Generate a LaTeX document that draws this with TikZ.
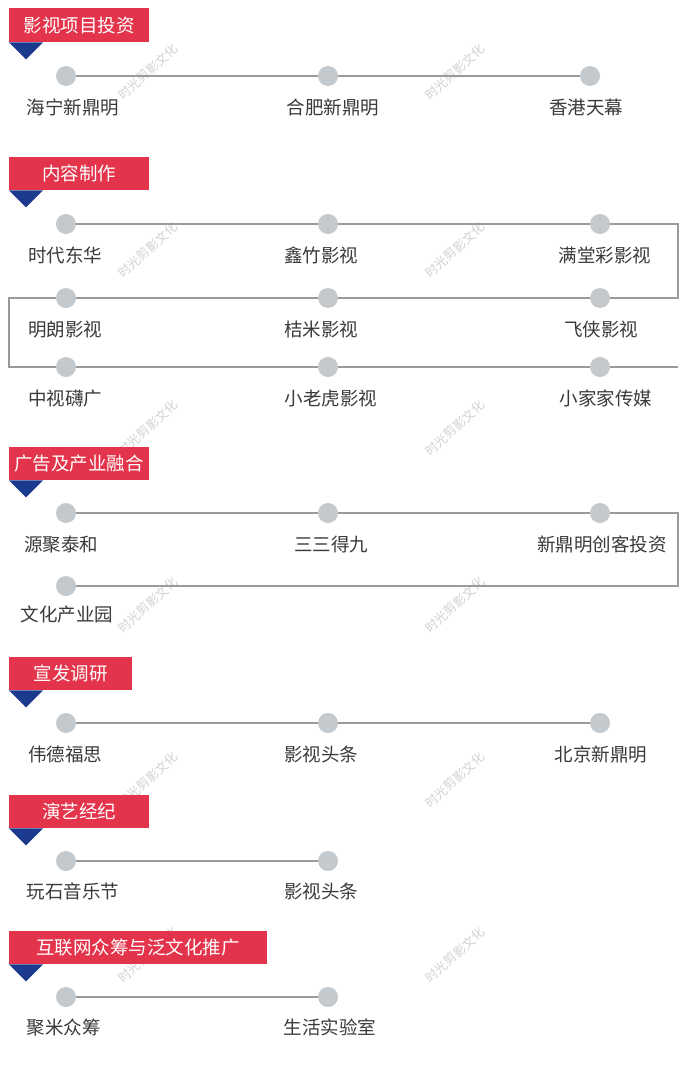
\documentclass[tikz,border=0pt]{standalone}
\usepackage{fontspec}
\newfontfamily\cjk{Noto Sans CJK SC}
\definecolor{hred}{HTML}{E3344B}
\definecolor{hnavy}{HTML}{1B3A8E}
\definecolor{dotgray}{HTML}{C4C9CD}
\definecolor{linegray}{HTML}{9A9A9A}
\definecolor{txtgray}{HTML}{3A3A3A}
\definecolor{wmgray}{HTML}{D2D2D2}
\tikzset{
  headbox/.style={fill=hred, text=white, inner sep=0pt, anchor=north west,
    font=\cjk\fontsize{18.5}{19}\selectfont},
  dot/.style={circle, fill=dotgray, minimum size=20pt, inner sep=0pt},
  conn/.style={draw=linegray, line width=1.5pt},
  lbl/.style={anchor=base, text=txtgray, inner sep=0pt, font=\cjk\fontsize{18.5}{19}\selectfont},
  wm/.style={text=wmgray, rotate=42, font=\cjk\fontsize{12.5}{13}\selectfont},
  tri/.style={fill=hnavy}
}
\newcommand{\headtri}[1]{\fill[tri] (#1.south west) -- ++(34,0) -- ++(-17,17) -- cycle;}
\begin{document}
\begin{tikzpicture}[x=1pt,y=-1pt]
\useasboundingbox[fill=white] (0,0) rectangle (690,1065);
\coordinate (R) at (678,0);
\coordinate (L) at (9,0);

% watermarks
\foreach \yy [count=\i] in {72,250,428,605,780,955}{
  \node[wm] (wmA\i) at (148,\yy) {时光剪影文化};
  \node[wm] (wmB\i) at (455,\yy) {时光剪影文化};
}

% ---------- Section 1
\node[headbox, minimum width=140pt, minimum height=34pt] (h1) at (9,8) {影视项目投资};
\headtri{h1}
\node[dot] (a1) at (66,76) {};
\node[dot] (a2) at (328,76) {};
\node[dot] (a3) at (590,76) {};
\draw[conn] (a1) -- (a2) -- (a3);
\node[lbl] (la1) at (73,114) {海宁新鼎明};
\node[lbl] (la2) at (333,114) {合肥新鼎明};
\node[lbl] (la3) at (586,114) {香港天幕};

% ---------- Section 2
\node[headbox, minimum width=140pt, minimum height=33pt] (h2) at (9,157) {内容制作};
\headtri{h2}
\node[dot] (b11) at (66,224) {};
\node[dot] (b12) at (328,224) {};
\node[dot] (b13) at (600,224) {};
\node[dot] (b21) at (66,298) {};
\node[dot] (b22) at (328,298) {};
\node[dot] (b23) at (600,298) {};
\node[dot] (b31) at (66,367) {};
\node[dot] (b32) at (328,367) {};
\node[dot] (b33) at (600,367) {};
\coordinate (bend) at (678,367);
\draw[conn] (b11) -- (b12) -- (b13) -- (R|-b13) |- (b23);
\draw[conn] (b23) -- (b22) -- (b21) -- (L|-b21) |- (b31);
\draw[conn] (b31) -- (b32) -- (b33) -- (bend);
\node[lbl] (lb11) at (65,262) {时代东华};
\node[lbl] (lb12) at (321,262) {鑫竹影视};
\node[lbl] (lb13) at (605,262) {满堂彩影视};
\node[lbl] (lb21) at (65,336) {明朗影视};
\node[lbl] (lb22) at (321,336) {桔米影视};
\node[lbl] (lb23) at (601,336) {飞侠影视};
\node[lbl] (lb31) at (65,405) {中视礴广};
\node[lbl] (lb32) at (331,405) {小老虎影视};
\node[lbl] (lb33) at (606,405) {小家家传媒};

% ---------- Section 3
\node[headbox, minimum width=140pt, minimum height=33pt] (h3) at (9,447) {广告及产业融合};
\headtri{h3}
\node[dot] (c11) at (66,513) {};
\node[dot] (c12) at (328,513) {};
\node[dot] (c13) at (600,513) {};
\node[dot] (c21) at (66,586) {};
\draw[conn] (c11) -- (c12) -- (c13) -- (R|-c13) |- (c21);
\node[lbl] (lc11) at (61,551) {源聚泰和};
\node[lbl] (lc12) at (331,551) {三三得九};
\node[lbl] (lc13) at (602,551) {新鼎明创客投资};
\node[lbl] (lc21) at (67,621) {文化产业园};

% ---------- Section 4
\node[headbox, minimum width=123pt, minimum height=33pt] (h4) at (9,657) {宣发调研};
\headtri{h4}
\node[dot] (d1) at (66,723) {};
\node[dot] (d2) at (328,723) {};
\node[dot] (d3) at (600,723) {};
\draw[conn] (d1) -- (d2) -- (d3);
\node[lbl] (ld1) at (65,761) {伟德福思};
\node[lbl] (ld2) at (321,761) {影视头条};
\node[lbl] (ld3) at (601,761) {北京新鼎明};

% ---------- Section 5
\node[headbox, minimum width=140pt, minimum height=33pt] (h5) at (9,795) {演艺经纪};
\headtri{h5}
\node[dot] (e1) at (66,861) {};
\node[dot] (e2) at (328,861) {};
\draw[conn] (e1) -- (e2);
\node[lbl] (le1) at (73,898) {玩石音乐节};
\node[lbl] (le2) at (321,898) {影视头条};

% ---------- Section 6
\node[headbox, minimum width=258pt, minimum height=33pt] (h6) at (9,931) {互联网众筹与泛文化推广};
\headtri{h6}
\node[dot] (f1) at (66,997) {};
\node[dot] (f2) at (328,997) {};
\draw[conn] (f1) -- (f2);
\node[lbl] (lf1) at (64,1034) {聚米众筹};
\node[lbl] (lf2) at (330,1034) {生活实验室};
\end{tikzpicture}
\end{document}
